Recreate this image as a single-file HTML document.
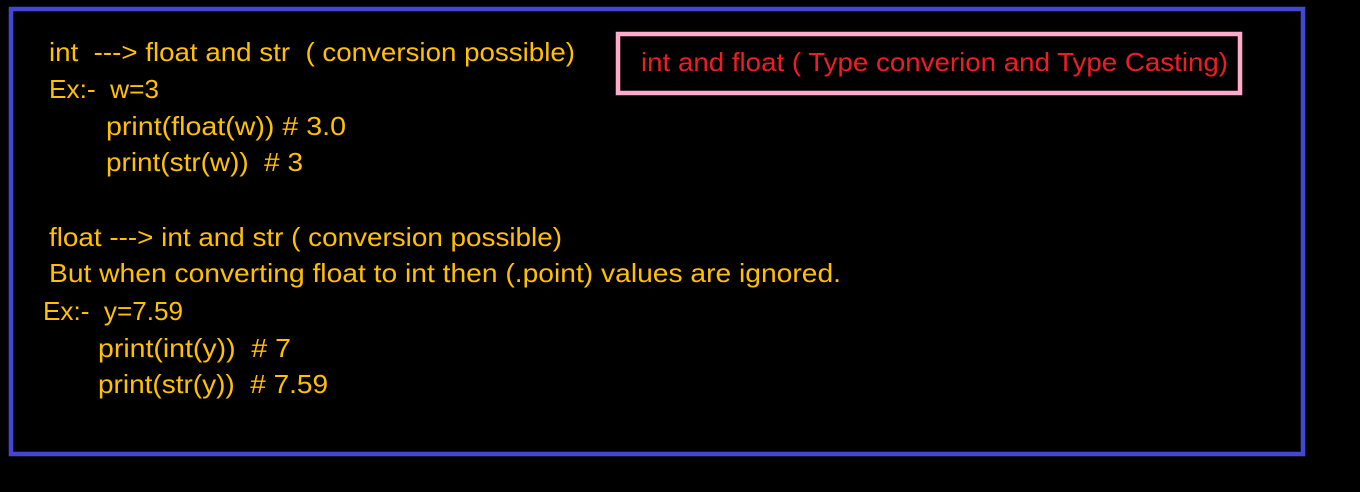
<!DOCTYPE html>
<html><head><meta charset="utf-8"><style>
html,body{margin:0;padding:0;background:#000;}
svg{display:block}
text{font-family:"Liberation Sans",sans-serif;font-size:26px;white-space:pre}
</style></head><body>
<svg width="1360" height="492" viewBox="0 0 1360 492" xmlns="http://www.w3.org/2000/svg">
<rect width="1360" height="492" fill="#000"/>
<rect x="11" y="9" width="1292" height="445" fill="none" stroke="#4447D4" stroke-width="4.5"/>
<rect x="618" y="34" width="622" height="59" fill="none" stroke="#FFABC9" stroke-width="4.5"/>
<g fill="#FFC000">
<text x="49" y="61" textLength="526" lengthAdjust="spacingAndGlyphs">int  ---&gt; float and str  ( conversion possible)</text>
<text x="49" y="98" textLength="110" lengthAdjust="spacingAndGlyphs">Ex:-  w=3</text>
<text x="106" y="135" textLength="240" lengthAdjust="spacingAndGlyphs">print(float(w)) # 3.0</text>
<text x="106" y="171" textLength="197" lengthAdjust="spacingAndGlyphs">print(str(w))  # 3</text>
<text x="49" y="246" textLength="513" lengthAdjust="spacingAndGlyphs">float ---&gt; int and str ( conversion possible)</text>
<text x="49" y="282" textLength="792" lengthAdjust="spacingAndGlyphs">But when converting float to int then (.point) values are ignored.</text>
<text x="43" y="320" textLength="140" lengthAdjust="spacingAndGlyphs">Ex:-  y=7.59</text>
<text x="98" y="357" textLength="193" lengthAdjust="spacingAndGlyphs">print(int(y))  # 7</text>
<text x="98" y="393" textLength="230" lengthAdjust="spacingAndGlyphs">print(str(y))  # 7.59</text>
</g>
<text x="641" y="71" fill="#EE1C25" textLength="587" lengthAdjust="spacingAndGlyphs">int and float ( Type converion and Type Casting)</text>
</svg>
</body></html>
